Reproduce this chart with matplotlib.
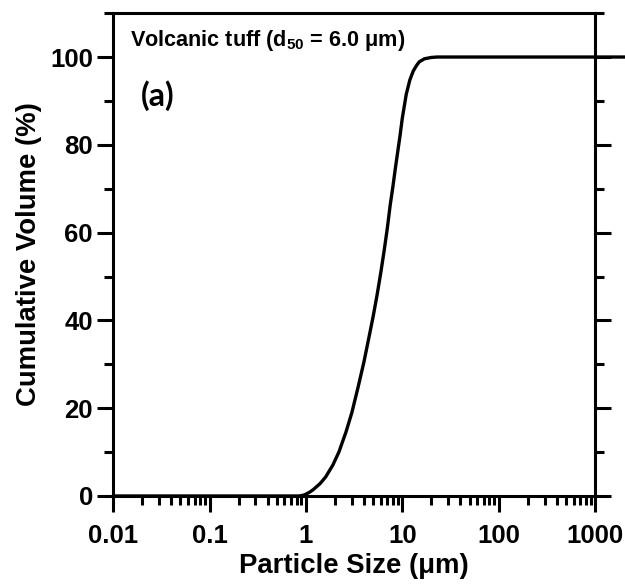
import numpy as np
import matplotlib
matplotlib.use("Agg")
import matplotlib.pyplot as plt
from matplotlib.ticker import FixedLocator, FixedFormatter, LogLocator, MultipleLocator

plt.rcParams['font.family'] = ['Liberation Sans', 'DejaVu Sans']
plt.rcParams['font.weight'] = 'bold'
plt.rcParams['mathtext.fontset'] = 'custom'
plt.rcParams['mathtext.rm'] = 'Liberation Sans:bold'
plt.rcParams['mathtext.default'] = 'rm'

# cumulative volume curve
size_um = [0.01, 0.85, 0.95, 1.0, 1.1, 1.2, 1.4, 1.6, 1.9, 2.2, 2.6, 3.0, 3.5,
           4.0, 4.5, 5.0, 5.5, 6.0, 6.5, 7.0, 7.5, 8.0, 8.5, 9.0, 9.5, 10.0,
           11.0, 12.0, 13.0, 14.0, 15.0, 17.0, 20.0, 23.0, 1000.0, 3000.0]
cum_vol = [0, 0, 0.2, 0.4, 0.9, 1.5, 2.8, 4.3, 7.0, 10.0, 14.5, 19.0, 25.0,
           30.5, 36.0, 41.0, 46.0, 51.0, 56.0, 61.0, 66.3, 70.5, 74.8, 78.6,
           82.2, 86.0, 91.5, 94.8, 96.8, 98.0, 98.9, 99.6, 99.9, 100, 100, 100]

xticks = [0.01, 0.1, 1, 10, 100, 1000]
xticklabels = ['0.01', '0.1', '1', '10', '100', '1000']
yticks = [0, 20, 40, 60, 80, 100]

fig = plt.figure(figsize=(6.25, 5.86), dpi=100)
ax = fig.add_axes([0.181, 0.1536, 0.771, 0.824])

ax.plot(size_um, cum_vol, color='black', lw=2.4, clip_on=False, solid_capstyle='butt')

ax.set_xscale('log')
ax.set_xlim(0.01, 1000)
ax.set_ylim(0, 110)

ax.xaxis.set_major_locator(FixedLocator(xticks))
ax.xaxis.set_major_formatter(FixedFormatter(xticklabels))
ax.xaxis.set_minor_locator(LogLocator(base=10, subs=np.arange(2, 10)))
ax.yaxis.set_major_locator(FixedLocator(yticks))
ax.yaxis.set_minor_locator(MultipleLocator(10))

for s in ax.spines.values():
    s.set_linewidth(2.2)

ax.tick_params(which='both', direction='out', width=2.2, top=False, right=True)
ax.tick_params(which='major', length=11.5, labelsize=18.5)
ax.tick_params(which='minor', length=6.5)
ax.tick_params(axis='x', which='major', pad=9)
ax.tick_params(axis='y', which='major', pad=3)

ax.set_xlabel('Particle Size (μm)', fontsize=19.8, fontweight='bold', labelpad=3)
ax.set_ylabel('Cumulative Volume (%)', fontsize=19.8, fontweight='bold', labelpad=6)

ax.text(0.035, 0.944, 'Volcanic tuff (d$_{50}$ = 6.0 μm)', transform=ax.transAxes,
        fontsize=15.6, fontweight='bold', va='center', ha='left')
ax.text(0.058, 0.83, '(a)', transform=ax.transAxes, family=['Lato', 'DejaVu Sans'],
        fontsize=23, fontweight='bold', va='center', ha='left')

fig.savefig('out.png', dpi=100)
